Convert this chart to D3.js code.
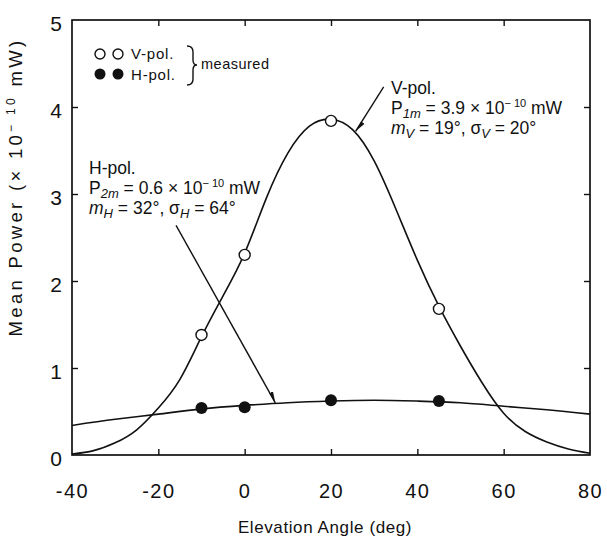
<!DOCTYPE html>
<html>
<head>
<meta charset="utf-8">
<script src="https://cdn.jsdelivr.net/npm/d3@7"></script>
<style>
  body { margin: 0; background: #fff; }
  text { font-family: "Liberation Sans", Arial, sans-serif; fill: #111; }
</style>
</head>
<body>
<div id="chart"></div>
<script>
// measured points
const vAngles = [-10, 0, 20, 45];
const vPower = [1.38, 2.30, 3.84, 1.68];
const hAngles = [-10, 0, 20, 45];
const hPower = [0.54, 0.55, 0.63, 0.62];

// fitted curves
const vCurveAngles = [-40, -35, -30, -25, -20, -15, -10, -5, 0, 5, 10, 15, 20, 25, 30, 35, 40, 45, 50, 55, 60, 65, 70, 75, 80];
const vCurvePower = [0.01, 0.05, 0.14, 0.29, 0.54, 0.87, 1.36, 1.83, 2.32, 2.95, 3.47, 3.78, 3.86, 3.74, 3.38, 2.83, 2.24, 1.71, 1.25, 0.83, 0.48, 0.27, 0.15, 0.07, 0.02];
const hCurveAngles = [-40, -30, -20, -10, 0, 10, 20, 30, 40, 50, 60, 70, 80];
const hCurvePower = [0.34, 0.41, 0.47, 0.53, 0.57, 0.60, 0.62, 0.63, 0.62, 0.60, 0.56, 0.52, 0.47];

const xTicks = [-40, -20, 0, 20, 40, 60, 80];
const yTicks = [0, 1, 2, 3, 4, 5];

// leader lines [angle, power] from label to curve
const vLeader = [[32.2, 4.23], [25.7, 3.72]];
const hLeader = [[-15.9, 2.64], [7.1, 0.60]];

const width = 607, height = 546;
const mLeft = 72, mRight = 590, mTop = 20, mBottom = 455;

const svg = d3.select('#chart').append('svg')
  .attr('width', width)
  .attr('height', height);

const x = d3.scaleLinear().domain([-40, 80]).range([mLeft, mRight]);
const y = d3.scaleLinear().domain([0, 5]).range([mBottom, mTop]);

// axes with inward ticks
const inner = xTicks.slice(1, -1);
const innerY = yTicks.slice(1, -1);

svg.append('g')
  .attr('transform', `translate(0,${mBottom})`)
  .call(d3.axisBottom(x).tickValues(xTicks).tickFormat(d => String(d))
    .tickSizeInner(-6).tickSizeOuter(0).tickPadding(29))
  .call(g => g.select('.domain').remove())
  .call(g => g.selectAll('.tick line').filter(d => !inner.includes(d)).remove())
  .call(g => g.selectAll('.tick text')
    .style('font-size', '20px').style('letter-spacing', '1.5px')
    .style('font-family', '"Liberation Sans", Arial, sans-serif'));

svg.append('g')
  .attr('transform', `translate(0,${mTop})`)
  .call(d3.axisTop(x).tickValues(inner).tickSizeInner(-6).tickSizeOuter(0).tickFormat(''))
  .call(g => g.select('.domain').remove());

svg.append('g')
  .attr('transform', `translate(${mLeft},0)`)
  .call(d3.axisLeft(y).tickValues(yTicks).tickFormat(d => String(d))
    .tickSizeInner(-6).tickSizeOuter(0).tickPadding(10))
  .call(g => g.select('.domain').remove())
  .call(g => g.selectAll('.tick line').filter(d => !innerY.includes(d)).remove())
  .call(g => g.selectAll('.tick text')
    .attr('dy', '0.5em')
    .style('font-size', '21px')
    .style('font-family', '"Liberation Sans", Arial, sans-serif'));

svg.append('g')
  .attr('transform', `translate(${mRight},0)`)
  .call(d3.axisRight(y).tickValues(innerY).tickSizeInner(-6).tickSizeOuter(0).tickFormat(''))
  .call(g => g.select('.domain').remove());

svg.selectAll('.tick line').attr('stroke', '#111').attr('stroke-width', 1.4);

svg.append('rect')
  .attr('x', mLeft).attr('y', mTop)
  .attr('width', mRight - mLeft).attr('height', mBottom - mTop)
  .attr('fill', 'none').attr('stroke', '#111').attr('stroke-width', 1.7);

// curves
const line = d3.line()
  .x(d => x(d[0]))
  .y(d => y(d[1]))
  .curve(d3.curveNatural);

svg.append('path')
  .datum(d3.zip(vCurveAngles, vCurvePower))
  .attr('d', line)
  .attr('fill', 'none').attr('stroke', '#111').attr('stroke-width', 1.6);

svg.append('path')
  .datum(d3.zip(hCurveAngles, hCurvePower))
  .attr('d', line)
  .attr('fill', 'none').attr('stroke', '#111').attr('stroke-width', 1.6);

// leaders
svg.append('defs').append('marker')
  .attr('id', 'barb')
  .attr('viewBox', '0 -4 8 8')
  .attr('refX', 8).attr('refY', 0)
  .attr('markerWidth', 8).attr('markerHeight', 8)
  .attr('orient', 'auto')
  .append('path')
  .attr('d', 'M0,-2.5L8,0L0,0.5Z')
  .attr('fill', '#111');

[vLeader, hLeader].forEach(l => {
  svg.append('path')
    .attr('d', d3.line().x(d => x(d[0])).y(d => y(d[1]))(l))
    .attr('fill', 'none').attr('stroke', '#111').attr('stroke-width', 1.4)
    .attr('marker-end', 'url(#barb)');
});

// points
svg.selectAll('.vpt')
  .data(d3.zip(vAngles, vPower))
  .join('circle')
  .attr('cx', d => x(d[0])).attr('cy', d => y(d[1]))
  .attr('r', 5.5)
  .attr('fill', '#fff').attr('stroke', '#111').attr('stroke-width', 1.4);

svg.selectAll('.hpt')
  .data(d3.zip(hAngles, hPower))
  .join('circle')
  .attr('cx', d => x(d[0])).attr('cy', d => y(d[1]))
  .attr('r', 6)
  .attr('fill', '#111');

// legend
const lg = svg.append('g');
[100, 118].forEach(cx => {
  lg.append('circle').attr('cx', cx).attr('cy', 54).attr('r', 5)
    .attr('fill', '#fff').attr('stroke', '#111').attr('stroke-width', 1.4);
  lg.append('circle').attr('cx', cx).attr('cy', 74).attr('r', 5.5).attr('fill', '#111');
});
lg.append('text').attr('x', 131).attr('y', 59)
  .style('font-size', '15px').style('letter-spacing', '0.8px').text('V-pol.');
lg.append('text').attr('x', 131).attr('y', 80)
  .style('font-size', '15px').style('letter-spacing', '0.8px').text('H-pol.');
// brace
lg.append('path')
  .attr('d', 'M187,46 Q193,46 193,52 L193,60 Q193,65 197,65 Q193,65 193,70 L193,79 Q193,85 187,85')
  .attr('fill', 'none').attr('stroke', '#111').attr('stroke-width', 1.4);
lg.append('text').attr('x', 201).attr('y', 69)
  .style('font-size', '14.5px').style('letter-spacing', '0.5px').text('measured');

// annotations
function note(x0, y0, lines) {
  const g = svg.append('g');
  lines.forEach((parts, i) => {
    const t = g.append('text')
      .attr('x', x0).attr('y', y0 + i * 20)
      .style('font-size', '17.5px');
    parts.forEach(p => {
      const ts = t.append('tspan').text(p.t);
      if (p.i) ts.style('font-style', 'italic');
      if (p.sub) ts.attr('dy', 4).style('font-size', '13px');
      if (p.sup) ts.attr('dy', -7).style('font-size', '11px');
      if (p.back) ts.attr('dy', p.back);
    });
  });
}

note(391, 94, [
  [{ t: 'V-pol.' }],
  [{ t: 'P' }, { t: '1m', i: true, sub: true }, { t: ' = 3.9 × 10', back: -4 },
   { t: '− 10', sup: true }, { t: ' mW', back: 7 }],
  [{ t: 'm', i: true }, { t: 'V', i: true, sub: true }, { t: ' = 19°,  σ', back: -4 },
   { t: 'V', i: true, sub: true }, { t: ' = 20°', back: -4 }]
]);

note(89, 174, [
  [{ t: 'H-pol.' }],
  [{ t: 'P' }, { t: '2m', i: true, sub: true }, { t: ' = 0.6 × 10', back: -4 },
   { t: '− 10', sup: true }, { t: ' mW', back: 7 }],
  [{ t: 'm', i: true }, { t: 'H', i: true, sub: true }, { t: ' = 32°,  σ', back: -4 },
   { t: 'H', i: true, sub: true }, { t: ' = 64°', back: -4 }]
]);

// axis titles
svg.append('text')
  .attr('x', 325).attr('y', 533)
  .attr('text-anchor', 'middle')
  .style('font-size', '17px').style('letter-spacing', '0.6px')
  .text('Elevation Angle  (deg)');

const yt = svg.append('text')
  .attr('transform', 'translate(22,187) rotate(-90)')
  .attr('text-anchor', 'middle')
  .style('font-size', '18.5px').style('letter-spacing', '3.3px');
yt.append('tspan').text('Mean  Power   (× 10');
yt.append('tspan').attr('dy', -7).style('font-size', '12px').text('− 10');
yt.append('tspan').attr('dy', 7).text(' mW)');
</script>
</body>
</html>
